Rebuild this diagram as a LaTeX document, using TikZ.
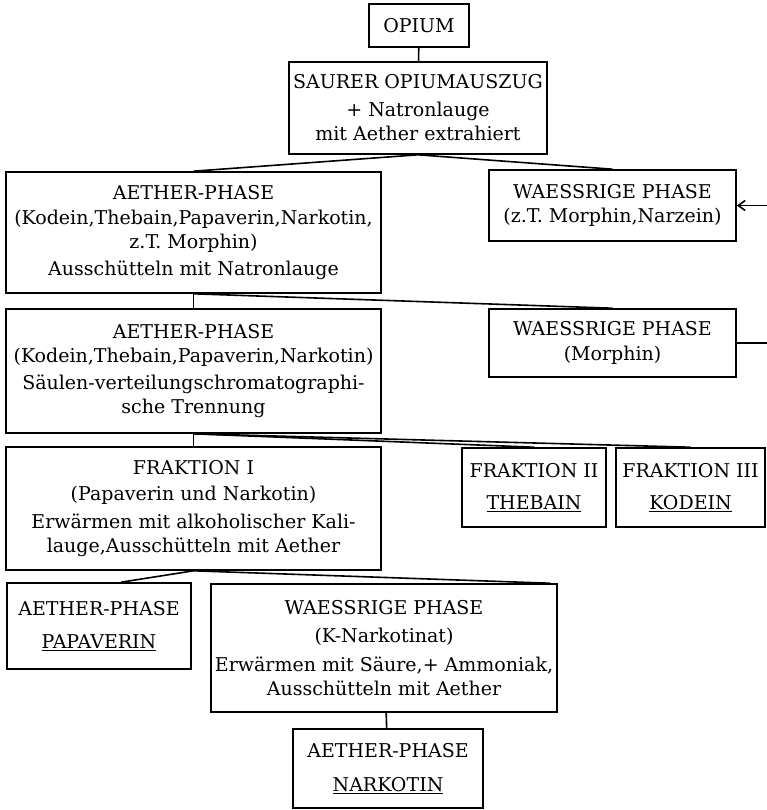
\documentclass[tikz,border=0pt]{standalone}
\usepackage{fontspec}
\setmainfont{DejaVu Serif}
\usetikzlibrary{arrows.meta}

\begin{document}
\begin{tikzpicture}[
  x=1pt, y=-1pt,
  box/.style={draw, line width=1.6pt, align=center, inner sep=0pt, font=\fontsize{19}{24.5}\selectfont},
  link/.style={line width=1.6pt},
  arr/.style={-{Straight Barb[length=7pt,width=10pt]}, line width=1.6pt}
]
\useasboundingbox (0,0) rectangle (767,810);
\node[box, minimum width=100pt, minimum height=43pt] (opium) at (419,25.5) {OPIUM};
\node[box, minimum width=258pt, minimum height=92pt] (saurer) at (418,108) {SAURER OPIUMAUSZUG\\[3pt]+ Natronlauge\\mit Aether extrahiert};
\node[box, minimum width=375pt, minimum height=121pt] (ap1) at (193.5,232.5) {AETHER-PHASE\\(Kodein,Thebain,Papaverin,Narkotin,\\z.T. Morphin)\\[2pt]Ausschütteln mit Natronlauge};
\node[box, minimum width=247pt, minimum height=71pt] (wp1) at (612.5,205.5) {WAESSRIGE PHASE\\(z.T. Morphin,Narzein)};
\node[box, minimum width=375pt, minimum height=124pt] (ap2) at (193.5,371) {AETHER-PHASE\\(Kodein,Thebain,Papaverin,Narkotin)\\[2pt]Säulen-verteilungschromatographi-\\sche Trennung};
\node[box, minimum width=247pt, minimum height=68pt] (wp2) at (612.5,343) {WAESSRIGE PHASE\\(Morphin)};
\node[box, minimum width=375pt, minimum height=123pt] (fr1) at (193.5,508.5) {FRAKTION I\\[2pt](Papaverin und Narkotin)\\[3pt]Erwärmen mit alkoholischer Kali-\\lauge,Ausschütteln mit Aether};
\node[box, minimum width=144pt, minimum height=79pt] (fr2) at (534,487.5) {FRAKTION II\\[8pt]\underline{THEBAIN}};
\node[box, minimum width=149pt, minimum height=79pt] (fr3) at (690.5,487.5) {FRAKTION III\\[8pt]\underline{KODEIN}};
\node[box, minimum width=184pt, minimum height=86pt] (ap3) at (99,626) {AETHER-PHASE\\[9pt]\underline{PAPAVERIN}};
\node[box, minimum width=346pt, minimum height=128pt] (wp3) at (384,648) {WAESSRIGE PHASE\\[4pt](K-Narkotinat)\\[4pt]Erwärmen mit Säure,+ Ammoniak,\\Ausschütteln mit Aether};
\node[box, minimum width=190pt, minimum height=79pt] (ap4) at (388,768.5) {AETHER-PHASE\\[10pt]\underline{NARKOTIN}};
\coordinate (rim) at (800,343);
\draw[link] (opium) -- (saurer);
\draw[link] (saurer.south) -- (ap1.north);
\draw[link] (saurer.south) -- (wp1.north);
\draw[link] (ap1) -- (ap2);
\draw[link] (ap1.south) -- (wp2.north);
\draw[arr] (wp2.east) -- (rim) |- (wp1.east);
\draw[link] (ap2) -- (fr1);
\draw[link] (ap2.south) -- (fr2.north);
\draw[link] (ap2.south) -- (fr3.north);
\draw[link] (fr1.south) -- ([xshift=22pt]ap3.north);
\draw[link] (fr1.south) -- ([xshift=-8pt]wp3.north east);
\draw[link] (wp3) -- (ap4);
\end{tikzpicture}
\end{document}
